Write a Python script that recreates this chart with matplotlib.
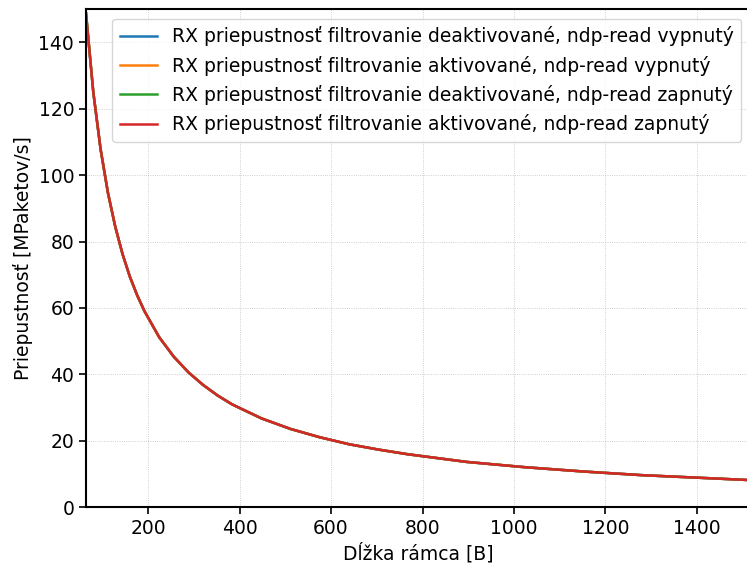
import matplotlib
matplotlib.use("Agg")
import matplotlib.pyplot as plt

frame_len = [64, 80, 96, 112, 128, 144, 160, 176, 192, 224, 256, 288, 320, 352, 384, 448, 512, 576, 640, 704, 768, 896, 1024, 1152, 1280, 1408, 1518]
thr_deakt_vyp = [148.8, 125.0, 107.8, 94.7, 84.5, 76.2, 69.4, 63.8, 59.0, 51.2, 45.3, 40.6, 36.8, 33.6, 30.9, 26.7, 23.5, 21.0, 18.9, 17.3, 15.9, 13.6, 12.0, 10.7, 9.6, 8.8, 8.1]
thr_akt_vyp = [148.8, 125.0, 107.8, 94.7, 84.5, 76.2, 69.4, 63.8, 59.0, 51.2, 45.3, 40.6, 36.8, 33.6, 30.9, 26.7, 23.5, 21.0, 18.9, 17.3, 15.9, 13.6, 12.0, 10.7, 9.6, 8.8, 8.1]
thr_deakt_zap = [148.8, 125.0, 107.8, 94.7, 84.5, 76.2, 69.4, 63.8, 59.0, 51.2, 45.3, 40.6, 36.8, 33.6, 30.9, 26.7, 23.5, 21.0, 18.9, 17.3, 15.9, 13.6, 12.0, 10.7, 9.6, 8.8, 8.1]
thr_akt_zap = [148.8, 125.0, 107.8, 94.7, 84.5, 76.2, 69.4, 63.8, 59.0, 51.2, 45.3, 40.6, 36.8, 33.6, 30.9, 26.7, 23.5, 21.0, 18.9, 17.3, 15.9, 13.6, 12.0, 10.7, 9.6, 8.8, 8.1]

labels = [
    "RX priepustnosť filtrovanie deaktivované, ndp-read vypnutý",
    "RX priepustnosť filtrovanie aktivované, ndp-read vypnutý",
    "RX priepustnosť filtrovanie deaktivované, ndp-read zapnutý",
    "RX priepustnosť filtrovanie aktivované, ndp-read zapnutý",
]
colors = ["#1f77b4", "#ff7f0e", "#2ca02c", "#d62728"]

fig = plt.figure(figsize=(7.47, 5.66), dpi=100)
ax = fig.add_axes([0.1151, 0.1042, 0.890, 0.8794])
for ys, lab, c in zip([thr_deakt_vyp, thr_akt_vyp, thr_deakt_zap, thr_akt_zap], labels, colors):
    ax.plot(frame_len, ys, color=c, label=lab, linewidth=1.8)

ax.set_xlim(64, 1518)
ax.set_ylim(0, 150)
ax.set_xticks([200, 400, 600, 800, 1000, 1200, 1400])
ax.set_yticks([0, 20, 40, 60, 80, 100, 120, 140])
ax.tick_params(labelsize=13.5, length=5, width=1.2)
ax.grid(True, color="#c0c0c0", linestyle=":", linewidth=0.6)
ax.set_xlabel("Dĺžka rámca [B]", fontsize=13.5)
ax.set_ylabel("Priepustnosť [MPaketov/s]", fontsize=13.5)
for s in ax.spines.values():
    s.set_linewidth(1.5)
ax.legend(loc="upper right", fontsize=13.5, handlelength=2.0, borderaxespad=0.5)

fig.savefig("out.png", dpi=100)
